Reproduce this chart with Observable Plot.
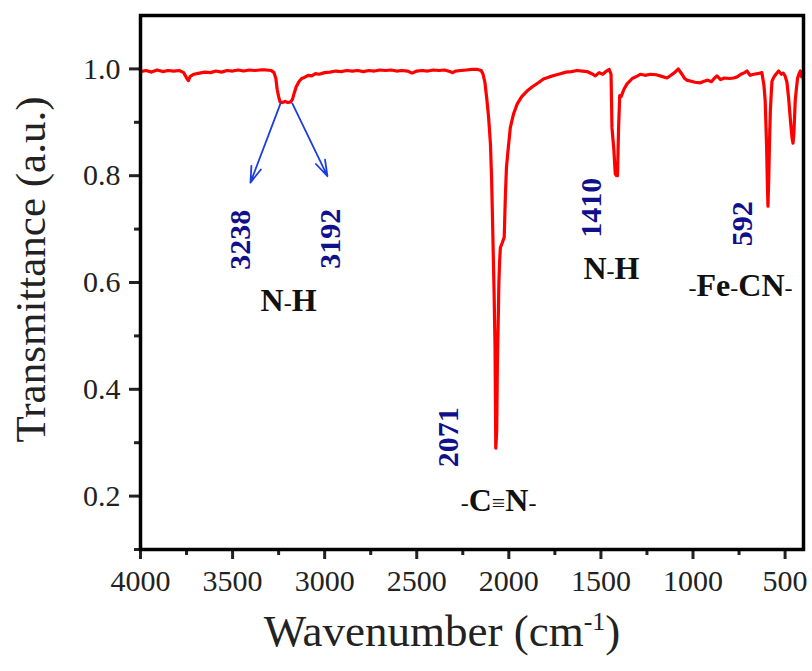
<!DOCTYPE html>
<html><head><meta charset="utf-8">
<script src="https://cdn.jsdelivr.net/npm/d3@7"></script>
<script src="https://cdn.jsdelivr.net/npm/@observablehq/plot@0.6"></script>
<style>body{margin:0;background:#fff}</style>
</head><body><div id="chart"></div>
<script>
const wavenumber = [4000,3970,3940,3910,3880,3850,3820,3790,3765,3748,3740,3730,3710,3680,3650,3620,3590,3560,3530,3500,3470,3440,3410,3380,3350,3320,3290,3275,3265,3258,3250,3242,3230,3215,3200,3185,3175,3165,3155,3140,3125,3110,3090,3070,3050,3030,3000,2970,2940,2910,2880,2850,2820,2790,2760,2730,2700,2670,2640,2610,2580,2550,2525,2500,2470,2440,2410,2380,2350,2320,2305,2290,2260,2230,2200,2170,2150,2140,2130,2120,2110,2100,2094,2090,2085,2080,2075,2071,2066,2062,2058,2054,2050,2046,2035,2025,2019,2013,2005,1992,1975,1955,1930,1900,1870,1840,1812,1780,1750,1720,1690,1660,1630,1600,1575,1550,1530,1510,1490,1470,1455,1445,1440,1430,1422,1415,1410,1404,1398,1390,1375,1358,1330,1300,1286,1260,1230,1200,1170,1141,1120,1100,1080,1060,1045,1033,1010,990,960,940,920,900,885,870,850,830,800,780,760,740,720,707,690,670,650,626,615,608,600,596,593,589,584,580,575,571,560,550,535,520,510,500,490,481,470,462,457,452,445,438,432,425,417,410,400];
const transmittance = [0.995,0.997,0.994,0.998,0.995,0.997,0.996,0.997,0.993,0.982,0.978,0.986,0.990,0.992,0.994,0.993,0.996,0.994,0.997,0.996,0.998,0.996,0.998,0.997,0.998,0.998,0.997,0.993,0.982,0.962,0.948,0.938,0.937,0.939,0.937,0.938,0.943,0.955,0.966,0.976,0.982,0.984,0.988,0.987,0.991,0.990,0.993,0.994,0.996,0.995,0.997,0.996,0.997,0.995,0.997,0.996,0.998,0.997,0.998,0.996,0.997,0.996,0.992,0.996,0.997,0.996,0.998,0.997,0.998,0.995,0.993,0.996,0.997,0.998,0.999,0.999,0.997,0.990,0.975,0.945,0.910,0.860,0.800,0.740,0.660,0.580,0.480,0.290,0.320,0.450,0.520,0.600,0.640,0.665,0.675,0.685,0.760,0.815,0.845,0.890,0.915,0.934,0.948,0.959,0.967,0.974,0.981,0.985,0.988,0.991,0.994,0.995,0.997,0.996,0.995,0.991,0.987,0.993,0.990,0.996,0.999,0.990,0.890,0.850,0.803,0.800,0.800,0.890,0.950,0.948,0.962,0.972,0.982,0.987,0.990,0.988,0.990,0.989,0.986,0.983,0.988,0.993,1.000,0.990,0.982,0.979,0.977,0.975,0.974,0.977,0.979,0.976,0.982,0.987,0.980,0.983,0.982,0.983,0.985,0.990,0.993,0.996,0.988,0.990,0.991,0.993,0.970,0.940,0.850,0.780,0.743,0.790,0.870,0.921,0.955,0.977,0.985,0.990,0.996,0.990,0.992,0.987,0.975,0.946,0.900,0.870,0.861,0.880,0.940,0.965,0.983,0.990,0.996,0.985,0.992];

const xMajorTicks = [4000,3500,3000,2500,2000,1500,1000,500];
const xMinorTicks = [3750,3250,2750,2250,1750,1250,750];
const yMajorTicks = [0.2,0.4,0.6,0.8,1.0];
const yMinorTicks = [0.1,0.3,0.5,0.7,0.9];

const peakLabels = ["3238","3192","2071","1410","592"];
const peakLabelX = [3457,2968,2328,1551,731];
const peakLabelY = [0.680,0.682,0.310,0.740,0.710];

const groupLabels = ["N-H","-C≡N-","N-H","-Fe-CN-"];
const groupLabelX = [3196,2056,1443,742];
const groupLabelY = [0.566,0.192,0.626,0.594];

const arrowX1 = [3240,3175], arrowY1 = [0.935,0.935];
const arrowX2 = [3403,2985], arrowY2 = [0.787,0.799];

const xTitle = "Wavenumber (cm-1)";
const yTitle = "Transmittance (a.u.)";

const spectrum = wavenumber.map((w,i)=>({w, t: transmittance[i]}));
const peaks = peakLabels.map((s,i)=>({s, x: peakLabelX[i], y: peakLabelY[i]}));
const groups = groupLabels.map((s,i)=>({s, x: groupLabelX[i], y: groupLabelY[i]}));
const arrows = arrowX1.map((x,i)=>({x1:x, y1:arrowY1[i], x2:arrowX2[i], y2:arrowY2[i]}));

const chart = Plot.plot({
  width: 812, height: 671,
  marginLeft: 140, marginRight: 9, marginTop: 15, marginBottom: 122,
  style: {fontFamily: "'Liberation Serif', 'Times New Roman', serif", background: "white", color: "#222"},
  x: {domain: [4000, 400], label: null},
  y: {domain: [0.1, 1.1], label: null},
  marks: [
    Plot.line(spectrum, {x: "w", y: "t", stroke: "#ff0000", strokeWidth: 3.2}),
    Plot.arrow(arrows, {x1: "x1", y1: "y1", x2: "x2", y2: "y2", stroke: "#1e3de0", strokeWidth: 1.8, headLength: 14, headAngle: 35}),
    Plot.text(peaks, {x: "x", y: "y", text: "s", rotate: -90, fontSize: 30, fontWeight: "bold", fill: "#10108c"}),
    Plot.text(groups, {x: "x", y: "y", text: "s", fontSize: 32, fontWeight: "bold", fill: "#111"}),
    Plot.axisX({ticks: xMajorTicks, tickSize: 10, tickPadding: 10, fontSize: 30, strokeWidth: 3, tickFormat: d => String(d), label: null, fill: "#222"}),
    Plot.axisX({ticks: xMinorTicks, tickSize: 6, strokeWidth: 3, tickFormat: () => "", label: null}),
    Plot.axisY({ticks: yMajorTicks, tickSize: 11, tickPadding: 9, fontSize: 30, strokeWidth: 3, tickFormat: d => d.toFixed(1), label: null, fill: "#222"}),
    Plot.axisY({ticks: yMinorTicks, tickSize: 6, strokeWidth: 3, tickFormat: () => "", label: null}),
    Plot.frame({stroke: "black", strokeWidth: 3.5}),
    Plot.text([xTitle], {frameAnchor: "bottom", textAnchor: "middle", dy: 96, dx: -30, fontSize: 45, fill: "#222"}),
    Plot.text([yTitle], {frameAnchor: "left", textAnchor: "middle", rotate: -90, dx: -109, dy: -13, fontSize: 43, fill: "#222"})
  ]
});

d3.select(chart).selectAll("text").each(function() {
  const t = this.textContent;
  const sel = d3.select(this);
  if (t === xTitle) {
    sel.text(null);
    sel.append("tspan").text("Wavenumber (cm");
    sel.append("tspan").attr("dy", -16).attr("font-size", 26).text("-1");
    sel.append("tspan").attr("dy", 16).text(")");
  } else if (groupLabels.includes(t)) {
    sel.text(null);
    t.split(/([-≡])/).filter(p => p.length).forEach(p => {
      const ts = sel.append("tspan").text(p);
      if (p === "-" || p === "≡") ts.attr("font-weight", "normal").attr("font-size", 24);
    });
  }
});

document.getElementById("chart").appendChild(chart);
</script>
</body></html>
